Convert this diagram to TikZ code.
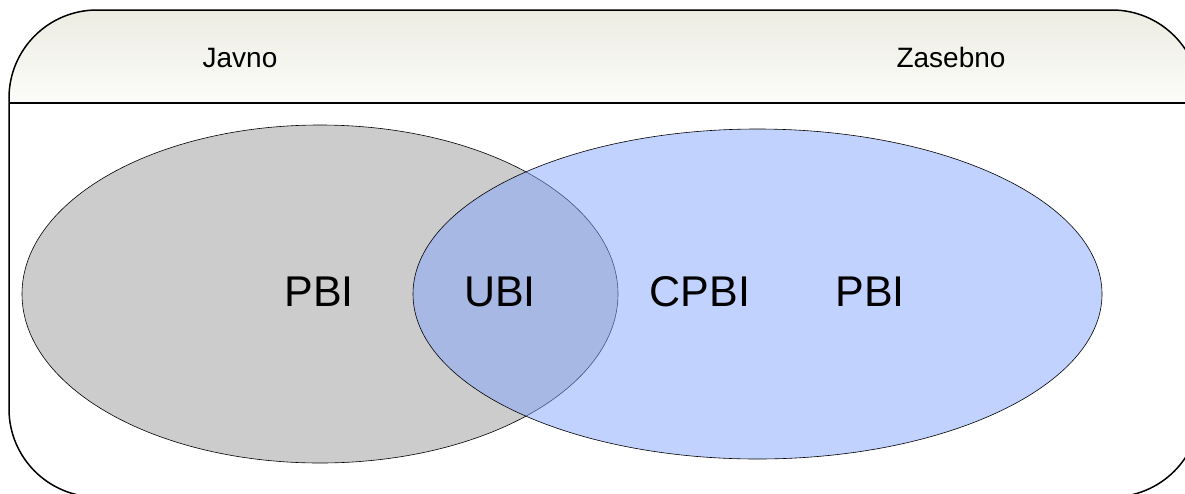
\documentclass[tikz,border=0pt]{standalone}
\usepackage{fontspec}
\setmainfont{Liberation Sans}
\usepackage{tikz}
\usetikzlibrary{shapes.geometric,positioning}
\definecolor{headtop}{RGB}{236,236,226}
\definecolor{headbot}{RGB}{252,252,250}
\definecolor{setgray}{RGB}{204,204,204}
\definecolor{setblue}{RGB}{134,166,255}

\begin{document}
\begin{tikzpicture}[x=1pt,y=-1pt,
  set/.style={draw,ellipse,inner sep=0pt,line width=0.6pt},
  big/.style={font=\fontsize{43}{43}\selectfont,anchor=base},
  head/.style={font=\fontsize{28}{28}\selectfont,anchor=base}]
\useasboundingbox (0,0) rectangle (1185,493);
\clip (0,0) rectangle (1185,493);
% frame with shaded header
\begin{scope}
  \clip[rounded corners=88pt] (9,10) rectangle (1200,497);
  \shade[top color=headtop,bottom color=headbot] (9,10) rectangle (1200,103);
\end{scope}
\draw[line width=1.5pt,rounded corners=88pt] (9,10) rectangle (1200,497);
\draw[line width=1.5pt] (9,103) -- (1200,103);
\node[head] (pub) at (240,67) {Javno};
\node[head] (priv) at (951,67) {Zasebno};
% the two sets
\node[set,fill=setgray,minimum width=596pt,minimum height=338pt] (left) at (320,294) {};
\node[set,fill=setblue,fill opacity=0.5,minimum width=689pt,minimum height=330pt] (right) at (757.5,294) {};
\node[big] (pbia) at (319,306) {PBI};
\node[big] (ubi) at (500,306) {UBI};
\node[big] (cpbi) at (700,306) {CPBI};
\node[big] (pbib) at (870,306) {PBI};
\end{tikzpicture}
\end{document}
